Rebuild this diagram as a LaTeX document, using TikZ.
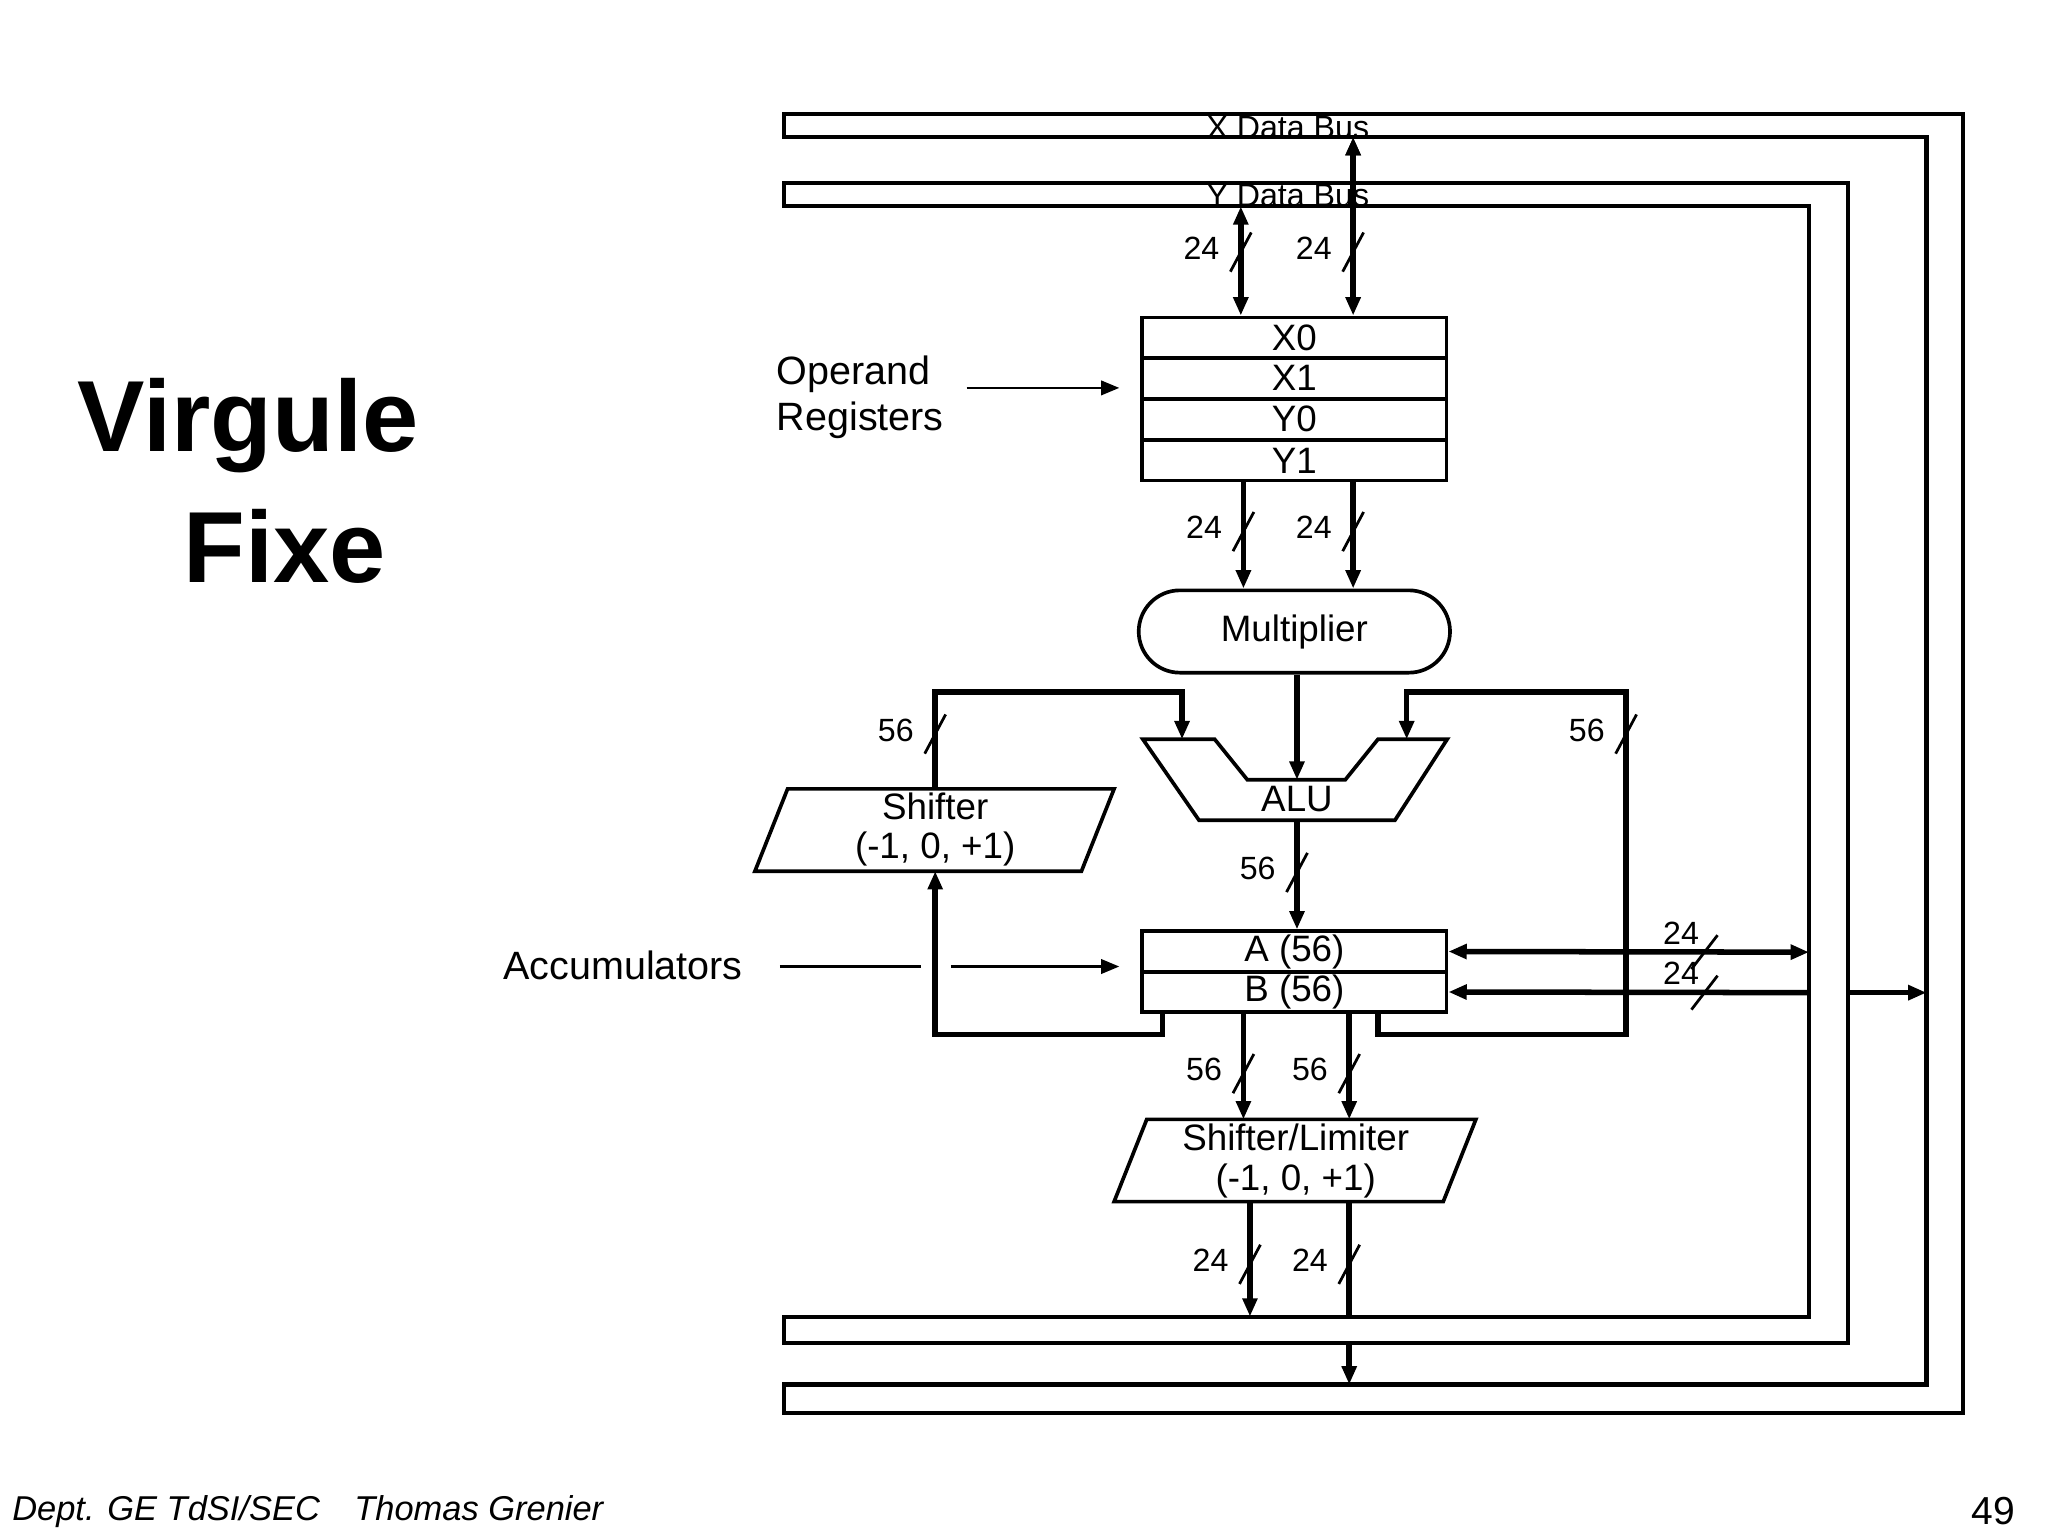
\documentclass[tikz,border=0pt]{standalone}
\usepackage{fontspec}
\setmainfont{Liberation Sans}
\usetikzlibrary{calc}
\usetikzlibrary{arrows.meta}
\usetikzlibrary{shapes.misc}
\tikzstyle{reg}=[draw, rectangle, minimum width=2.33cm, minimum height=0.31cm, inner sep=0cm, line width=0.8pt]
\tikzstyle{bus}=[line width=0.9pt]
\tikzstyle{wire}=[line width=1.2pt]
\tikzstyle{tip}=[-{Triangle[length=1.4mm,width=1.1mm]}]
\tikzstyle{both}=[{Triangle[length=1.4mm,width=1.1mm]}-{Triangle[length=1.4mm,width=1.1mm]}]
\tikzstyle{tail}=[{Triangle[length=1.4mm,width=1.1mm]}-]
\newcommand{\vsl}[2]{%
  \draw[line width=0.6pt] ($(#1)+(-8,15)$) -- ($(#1)+(8,-15)$);
  \node[anchor=east, font=\fontsize{7}{8}\selectfont] at ($(#1)+(-4,-3)$) {#2};}
\newcommand{\hsl}[2]{%
  \draw[line width=0.6pt] ($(#1)+(-10,13)$) -- ($(#1)+(10,-13)$);
  \node[anchor=south east, font=\fontsize{7}{8}\selectfont, inner sep=1pt] at ($(#1)+(0,-2)$) {#2};}
\begin{document}
\begin{tikzpicture}[x=0.01cm, y=-0.01cm, font=\fontsize{8}{8.6}\selectfont]
  \useasboundingbox (0,0) rectangle (1568,1176);

  % title and footer
  \node (t1) at (190,326) {\fontsize{22}{25}\selectfont\bfseries Virgule};
  \node (t2) at (218,418) {\fontsize{22}{25}\selectfont\bfseries Fixe};
  \node (foot) [anchor=west] at (-3,1157) {\fontsize{7.5}{9}\selectfont\itshape Dept. GE TdSI/SEC\quad Thomas Grenier};
  \node (page) [anchor=east] at (1555,1157) {\fontsize{8.5}{10}\selectfont 49};

  % data buses
  \draw[bus] (600,87) -- (1503,87) -- (1503,1082) -- (600,1082) -- (600,1060) -- (1475,1060) -- (1475,105) -- (600,105) -- cycle;
  \draw[bus] (600,140) -- (1415,140) -- (1415,1028) -- (600,1028) -- (600,1008) -- (1385,1008) -- (1385,158) -- (600,158) -- cycle;
  \node (xbus) [font=\fontsize{7}{8}\selectfont] at (986,98) {X Data Bus};
  \node (ybus) [font=\fontsize{7}{8}\selectfont] at (986,150) {Y Data Bus};

  % bus taps
  \coordinate (xbT) at (1036,105);
  \coordinate (ybT) at (950,158);
  \coordinate (ybA) at (1385,729);
  \coordinate (ybB1) at (1385,760);
  \coordinate (ybB2) at (1415,760);
  \coordinate (xbB) at (1475,760);
  \coordinate (ybL) at (957,1008);
  \coordinate (ybR) at (1033,1008);
  \coordinate (ybR2) at (1033,1028);
  \coordinate (xbL) at (1033,1060);
  \coordinate (cL) at (952,0);
  \coordinate (cR) at (1036,0);

  % operand registers
  \node (x0) [reg] at (991,258.5) {X0};
  \node (x1) [reg] at (991,289.5) {X1};
  \node (y0) [reg] at (991,321) {Y0};
  \node (y1) [reg] at (991,352.5) {Y1};
  \node (opl) [anchor=east, align=left, font=\fontsize{8.6}{10}\selectfont] at (735,304) {Operand\\Registers};
  \coordinate (opa) at (740,297);
  \coordinate (opb) at (857,297);

  \node (mul) [draw, rounded rectangle, minimum width=2.33cm, minimum height=0.63cm, inner xsep=0.6cm, line width=0.8pt] at (991,483.5) {Multiplier};

  % ALU
  \draw[line width=0.8pt] (875,566) -- (930,566) -- (955,597) -- (1030,597) -- (1055,566) -- (1108,566) -- (1068,628) -- (918,628) -- cycle;
  \node (alu) at (993,612) {ALU};
  \coordinate (aluM) at (993,597);
  \coordinate (aluB) at (993,628);

  % shifters
  \draw[line width=0.8pt] (603,604) -- (853,604) -- (828,667) -- (578,667) -- cycle;
  \node (shf) [align=center] at (716,635) {Shifter\\(-1, 0, +1)};
  \coordinate (shfT) at (716,604);
  \coordinate (shfB) at (716,667);
  \draw[line width=0.8pt] (878,857) -- (1130,857) -- (1105,920) -- (853,920) -- cycle;
  \node (lim) [align=center] at (992,889) {Shifter/Limiter\\(-1, 0, +1)};

  % accumulators
  \node (a) [reg] at (991,728.5) {A (56)};
  \node (b) [reg] at (991,759.5) {B (56)};
  \node (accl) [anchor=east, font=\fontsize{8.6}{10}\selectfont] at (581,739) {Accumulators};
  \coordinate (acc1) at (597,740);
  \coordinate (acc2) at (705,740);
  \coordinate (acc3) at (728,740);
  \coordinate (acc4) at (857,740);

  % connectors
  \draw[wire,tip] (1036,140) -- (xbT);
  \draw[wire,both] (ybT) -- (x0.north -| ybT);
  \draw[wire,both] (xbT) -- (x0.north -| cR);
  \vsl{950,193}{24} \vsl{1036,193}{24}
  \draw[wire,tip] (y1.south -| cL) -- (mul.north -| cL);
  \draw[wire,tip] (y1.south -| cR) -- (mul.north -| cR);
  \vsl{952,407}{24} \vsl{1036,407}{24}
  \draw[wire,tip] (mul.south -| aluM) -- (aluM);
  \draw[wire,tip] (aluB) -- (a.north -| aluB);
  \vsl{993,668}{56}
  \draw[wire,tip] (b.south -| 890,0) -- (890,792) -- (716,792) -- (shfB);
  \draw[wire,tip] (shfT) -- (716,530) -- (905,530) -- (905,566);
  \vsl{716,562}{56}
  \draw[wire,tip] (b.south -| 1055,0) -- (1055,792) -- (1245,792) -- (1245,530) -- (1077,530) -- (1077,566);
  \vsl{1245,562}{56}
  \draw[wire,both] (a.east) -- (ybA);
  \hsl{1305,729}{24}
  \draw[wire,tail] (b.east) -- (ybB1);
  \draw[wire,tip] (ybB2) -- (xbB);
  \hsl{1305,760}{24}
  \draw[wire,tip] (b.south -| cL) -- (cL |- 0,857);
  \draw[wire,tip] (b.south -| ybR) -- (ybR |- 0,857);
  \vsl{952,822}{56} \vsl{1033,822}{56}
  \draw[wire,tip] (ybL |- 0,920) -- (ybL);
  \draw[wire] (ybR |- 0,920) -- (ybR);
  \draw[wire,tip] (ybR2) -- (xbL);
  \vsl{957,968}{24} \vsl{1033,968}{24}
  \draw[line width=0.6pt] (acc1) -- (acc2);
  \draw[line width=0.6pt,tip] (acc3) -- (acc4);
  \draw[line width=0.6pt,tip] (opa) -- (opb);
\end{tikzpicture}
\end{document}
